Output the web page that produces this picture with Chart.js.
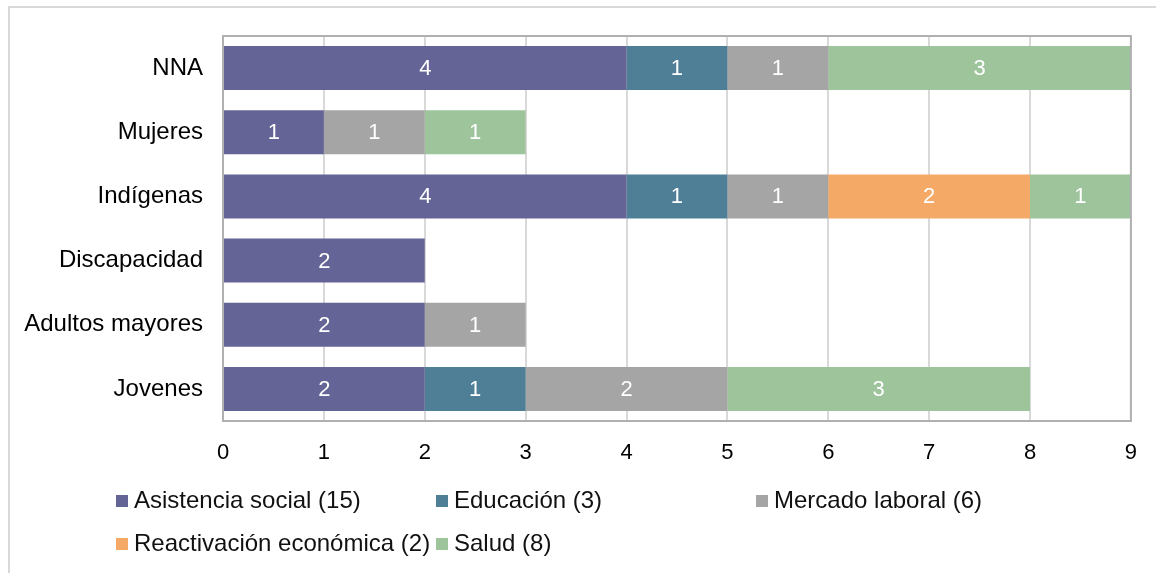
<!DOCTYPE html>
<html>
<head>
<meta charset="utf-8">
<script src="https://cdn.jsdelivr.net/npm/chart.js@4/dist/chart.umd.min.js"></script>
<style>
    html, body { margin: 0; padding: 0; background: #fff; }
    #wrap { position: relative; width: 1156px; height: 573px; overflow: hidden; }
    #frame { position: absolute; left: 8px; top: 6px; width: 1200px; height: 600px; border: 2px solid #d9d9d9; box-sizing: border-box; }
    canvas { position: absolute; left: 0; top: 0; }
    #legend {
        position: absolute; left: 116px; top: 486px;
        display: grid; grid-template-columns: 320px 320px 320px; row-gap: 15px;
        font-family: "Liberation Sans", Arial, sans-serif; font-size: 24px; line-height: 28px; color: #111;
    }
    .item { display: flex; align-items: center; white-space: nowrap; }
    .box { flex: 0 0 auto; width: 12px; height: 12px; margin-right: 6px; margin-top: 2px; }
</style>
</head>
<body>
<div id="wrap">
    <div id="frame"></div>
    <canvas id="chart" width="1156" height="573"></canvas>
    <div id="legend"></div>
</div>
<script>
const categories = ['NNA', 'Mujeres', 'Indígenas', 'Discapacidad', 'Adultos mayores', 'Jovenes'];
const seriesNames = ['Asistencia social (15)', 'Educación (3)', 'Mercado laboral (6)', 'Reactivación económica (2)', 'Salud (8)'];
const asistencia = [4, 1, 4, 2, 2, 2];
const educacion = [1, null, 1, null, null, 1];
const mercado = [1, 1, 1, null, 1, 2];
const reactivacion = [null, null, 2, null, null, null];
const salud = [3, 1, 1, null, null, 3];
const xTicks = [0, 1, 2, 3, 4, 5, 6, 7, 8, 9];
const colors = ['#646496', '#4e7f96', '#a5a5a5', '#f4a966', '#9dc49b'];

const seriesValues = [asistencia, educacion, mercado, reactivacion, salud];
const fontFamily = '"Liberation Sans", Arial, sans-serif';
const tickFont = { family: fontFamily, size: 22 };
const catFont = { family: fontFamily, size: 24 };

// white value labels in the middle of each bar piece
const barLabels = {
    id: 'barLabels',
    afterDatasetsDraw(chart) {
        const ctx = chart.ctx;
        ctx.save();
        ctx.font = `22px ${fontFamily}`;
        ctx.fillStyle = '#ffffff';
        ctx.textAlign = 'center';
        ctx.textBaseline = 'middle';
        chart.data.datasets.forEach((ds, i) => {
            chart.getDatasetMeta(i).data.forEach((el, j) => {
                const v = ds.data[j];
                if (v === null || v === undefined) return;
                const p = el.getProps(['x', 'y', 'base'], true);
                ctx.fillText(String(v), (p.x + p.base) / 2, p.y + 1);
            });
        });
        ctx.restore();
    }
};

const plotBorder = {
    id: 'plotBorder',
    afterDraw(chart) {
        const a = chart.chartArea;
        const ctx = chart.ctx;
        ctx.save();
        ctx.strokeStyle = '#b0b0b0';
        ctx.lineWidth = 2;
        ctx.strokeRect(a.left, a.top, a.right - a.left, a.bottom - a.top);
        ctx.restore();
    }
};

const ctx = document.getElementById('chart').getContext('2d');
new Chart(ctx, {
    type: 'bar',
    data: {
        labels: categories,
        datasets: seriesNames.map((name, i) => ({
            label: name,
            data: seriesValues[i],
            backgroundColor: colors[i],
            borderWidth: 0,
            categoryPercentage: 1,
            barPercentage: 0.685
        }))
    },
    options: {
        indexAxis: 'y',
        responsive: false,
        animation: false,
        layout: { padding: { left: 0, top: 36, right: 19, bottom: 0 } },
        scales: {
            x: {
                stacked: true,
                min: 0,
                max: 9,
                afterBuildTicks: scale => { scale.ticks = xTicks.map(v => ({ value: v })); },
                afterFit: scale => { scale.height = 152; },
                grid: { color: '#d9d9d9', lineWidth: 2, drawTicks: false },
                border: { display: false },
                ticks: { font: tickFont, color: '#000', padding: 19 }
            },
            y: {
                stacked: true,
                afterFit: scale => { scale.width = 223; },
                grid: { display: false, drawTicks: false },
                border: { display: false },
                ticks: { font: catFont, color: '#000', padding: 20 }
            }
        },
        plugins: {
            legend: { display: false },
            tooltip: { enabled: false }
        }
    },
    plugins: [barLabels, plotBorder]
});

const legend = document.getElementById('legend');
seriesNames.forEach((name, i) => {
    const item = document.createElement('div');
    item.className = 'item';
    const box = document.createElement('span');
    box.className = 'box';
    box.style.background = colors[i];
    const text = document.createElement('span');
    text.textContent = name;
    item.appendChild(box);
    item.appendChild(text);
    legend.appendChild(item);
});
</script>
</body>
</html>
